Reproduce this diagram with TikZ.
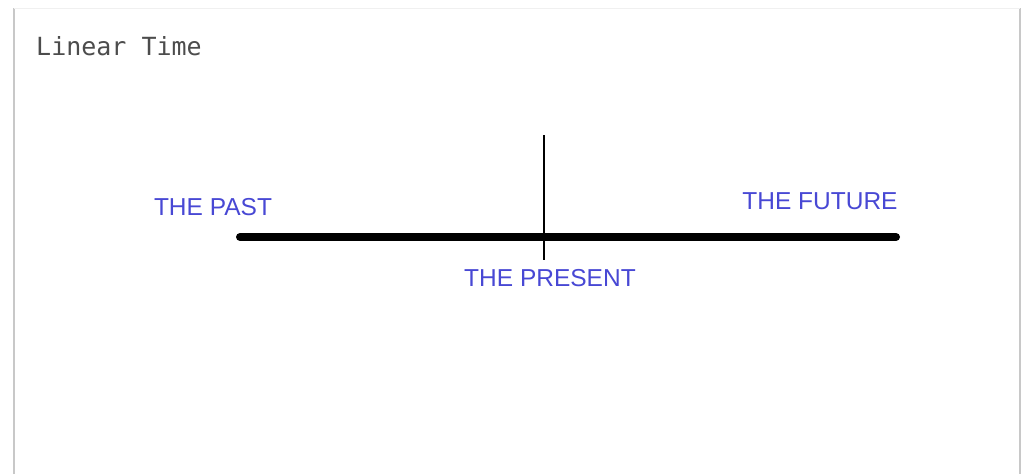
\documentclass[tikz,border=0pt]{standalone}
\usepackage{fontspec}
\setsansfont{Liberation Sans}
\setmonofont{DejaVu Sans Mono}
\definecolor{eralabel}{RGB}{72,72,212}
\definecolor{framegray}{RGB}{200,200,200}
\tikzset{
  era/.style={font=\sffamily\fontsize{24.5}{29}\selectfont, text=eralabel, inner sep=0pt},
  timeline/.style={line width=8pt, line cap=round},
  now/.style={line width=2.2pt}
}
\begin{document}
\begin{tikzpicture}[x=1pt, y=-1pt, line join=round]
	\useasboundingbox (0,0) rectangle (1024,474);
	\draw[framegray, line width=2.5pt] (14,474) -- (14,8);
	\draw[framegray, line width=2.5pt] (1020,8) -- (1020,474);
	\draw[black!6, line width=1pt] (14,8) -- (1020,8);
	\node[anchor=west, inner sep=0pt, font=\ttfamily\fontsize{25}{30}\selectfont, text=black!70] (title) at (36,46) {Linear Time};
	\coordinate (start) at (240,237);
	\coordinate (end) at (896,237);
	\coordinate (top) at (544,135);
	\coordinate (bottom) at (544,260);
	\draw[timeline] (start) -- (end);
	\draw[now] (top) -- (bottom);
	\node[era] (past) at (213,207) {THE PAST};
	\node[era] (future) at (820,201) {THE FUTURE};
	\node[era] (present) at (550,278) {THE PRESENT};
\end{tikzpicture}
\end{document}
